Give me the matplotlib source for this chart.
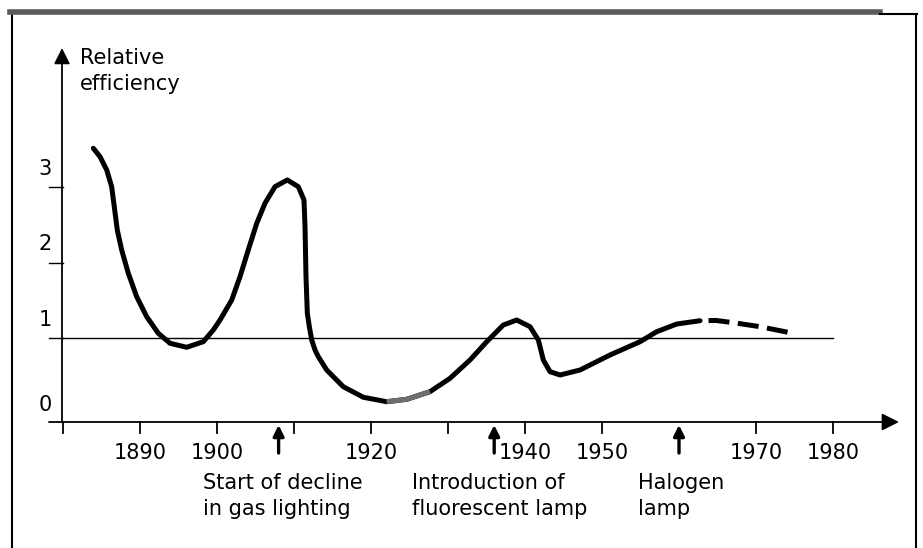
import matplotlib
matplotlib.use("Agg")
import matplotlib.pyplot as plt
from matplotlib.lines import Line2D

plt.rcParams["font.family"] = ["DejaVu Sans"]

# curve (year, relative efficiency)
years_solid = [1883.94, 1884.81, 1885.68, 1886.32, 1886.66, 1887.05, 1887.62, 1888.48,
               1889.57, 1890.87, 1892.38, 1893.90, 1896.06, 1898.22, 1899.52, 1900.39,
               1901.91, 1902.99, 1904.06, 1905.16, 1906.23, 1907.53, 1909.13, 1910.56,
               1911.30, 1911.43, 1911.56, 1911.73, 1911.99, 1912.30, 1912.73, 1913.16,
               1914.25, 1916.40, 1919.00, 1922.04, 1924.64, 1927.66, 1930.26, 1932.86,
               1935.03, 1937.18, 1938.92, 1940.65, 1941.73, 1942.38, 1943.25, 1944.55,
               1947.14, 1951.04, 1954.94, 1957.10, 1959.70, 1962.73]
eff_solid = [3.513, 3.401, 3.225, 3.004, 2.739, 2.430, 2.166, 1.857,
             1.547, 1.282, 1.062, 0.930, 0.877, 0.951, 1.106, 1.238,
             1.503, 1.812, 2.166, 2.519, 2.784, 3.004, 3.093, 3.004,
             2.828, 2.474, 1.812, 1.327, 1.150, 0.974, 0.841, 0.752,
             0.576, 0.355, 0.215, 0.156, 0.188, 0.289, 0.466, 0.709,
             0.951, 1.172, 1.238, 1.150, 0.974, 0.709, 0.554, 0.510,
             0.576, 0.775, 0.951, 1.083, 1.185, 1.229]
years_dashed = [1962.73, 1964.81, 1967.05, 1970.52, 1974.19]
eff_dashed = [1.229, 1.232, 1.203, 1.150, 1.075]
faded_span = (1919.9, 1929.9)   # lighter stretch of the printed line

year_ticks = [1880, 1890, 1900, 1910, 1920, 1930, 1940, 1950, 1970, 1980]
year_labels = [1890, 1900, 1920, 1940, 1950, 1970, 1980]
eff_ticks = [1, 2, 3]
eff_labels = [0, 1, 2, 3]
event_years = [1908, 1936, 1960]
event_texts = ["Start of decline\nin gas lighting",
               "Introduction of\nfluorescent lamp",
               "Halogen\nlamp"]

# pixel scale of the drawing
W, H = 923, 548
X0, PX_YEAR = 63, 7.7
Y0, PX_UNIT = 413.5, 75.5
BASE = (Y0 - 422) / PX_UNIT
px_x = 1 / PX_YEAR
px_y = 1 / PX_UNIT

fig = plt.figure(figsize=(W / 100, H / 100), dpi=100)
ax = fig.add_axes([0, 0, 1, 1])
ax.set_xlim(1880 - X0 * px_x, 1880 + (W - X0) * px_x)
ax.set_ylim((Y0 - H) * px_y, Y0 * px_y)
ax.axis("off")

# frame
ax.add_line(Line2D([12 / W, 12 / W], [0, 1 - 14 / H], color="k", lw=1.5, transform=ax.transAxes))
ax.add_line(Line2D([916 / W, 916 / W], [0, 1 - 14 / H], color="k", lw=1.5, transform=ax.transAxes))
ax.add_line(Line2D([10 / W, 880 / W], [1 - 12 / H, 1 - 12 / H], color="#5a5a5a", lw=4,
                   transform=ax.transAxes))
ax.add_line(Line2D([880 / W, 917 / W], [1 - 14 / H, 1 - 14 / H], color="k", lw=1.5,
                   transform=ax.transAxes))

# axes with arrow heads
ax.annotate("", xy=(1880 + 836 * px_x, BASE), xytext=(1880 - 14 * px_x, BASE),
            arrowprops=dict(arrowstyle="-|>", color="k", lw=1.3, mutation_scale=26,
                            shrinkA=0, shrinkB=0))
ax.annotate("", xy=(1880 - px_x, (Y0 - 48) * px_y), xytext=(1880 - px_x, BASE),
            arrowprops=dict(arrowstyle="-|>", color="k", lw=1.3, mutation_scale=24,
                            shrinkA=0, shrinkB=0))

for yr in year_ticks:
    ax.plot([yr, yr], [BASE, BASE - 11 * px_y], color="k", lw=1.3)
for yr in year_labels:
    ax.text(yr, BASE - 31 * px_y, str(yr), ha="center", va="center", fontsize=15)

for v in eff_ticks:
    ax.plot([1880 - 14 * px_x, 1880], [v, v], color="k", lw=1.0)
for v in eff_labels:
    ax.text(1880 - 18 * px_x, v + 18 * px_y if v else BASE + 17 * px_y, str(v),
            ha="center", va="center", fontsize=15)

ax.text(1880 + 17 * px_x, (Y0 - 71) * px_y, "Relative\nefficiency", ha="left",
        va="center", fontsize=15, linespacing=1.35)

# reference line at 1
ax.plot([1880, 1980], [1, 1], color="k", lw=1.0)

# curve
ax.plot(years_solid, eff_solid, color="k", lw=3.6, solid_capstyle="round",
        solid_joinstyle="round")
fy = [y for y in years_solid if faded_span[0] <= y <= faded_span[1]]
fe = [e for y, e in zip(years_solid, eff_solid) if faded_span[0] <= y <= faded_span[1]]
ax.plot(fy, fe, color="#6e6e6e", lw=3.6, solid_capstyle="butt", solid_joinstyle="round")
ax.plot(years_dashed, eff_dashed, color="k", lw=3.6, linestyle=(4.2, (4.2, 1.7)))

# event arrows and notes
for yr, txt, left in zip(event_years, event_texts, [203, 412, 638]):
    ax.annotate("", xy=(yr, BASE - 3 * px_y), xytext=(yr, BASE - 31 * px_y),
                arrowprops=dict(arrowstyle="-|>", color="k", lw=2.4, mutation_scale=16,
                                shrinkA=0, shrinkB=0))
    ax.text(1880 + (left - X0) * px_x, (Y0 - 473) * px_y, txt, ha="left", va="top",
            fontsize=15, linespacing=1.35)

fig.savefig("out.png", dpi=100, facecolor="white")
